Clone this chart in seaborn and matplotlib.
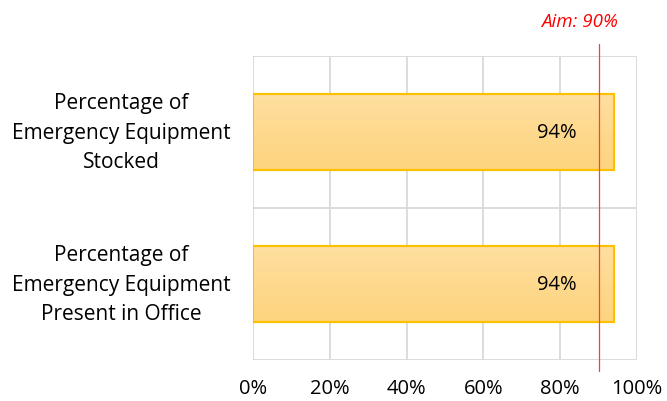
import matplotlib
matplotlib.use("Agg")
import matplotlib.pyplot as plt
import matplotlib.patches as mpatches
from matplotlib.colors import LinearSegmentedColormap
import seaborn as sns
import pandas as pd
import numpy as np

categories = ["Percentage of\nEmergency Equipment\nStocked",
              "Percentage of\nEmergency Equipment\nPresent in Office"]
values = [0.94, 0.94]
value_labels = ["94%", "94%"]
aim = 0.90
aim_label = "Aim: 90%"
xticks = [0, 0.2, 0.4, 0.6, 0.8, 1.0]
xtick_labels = ["0%", "20%", "40%", "60%", "80%", "100%"]

sns.set_theme(style="white")
plt.rcParams['font.family'] = ['Open Sans', 'DejaVu Sans']

df = pd.DataFrame({"cat": categories, "val": values})

fig = plt.figure(figsize=(6.67, 4.02), dpi=100)
ax = fig.add_axes([253/667, 1-361/402, 384/667, 304/402])

sns.barplot(data=df, y="cat", x="val", orient="h", ax=ax, width=0.5,
            color="#FED98F", edgecolor="#FFC000", linewidth=1.5, saturation=1)

ax.set_xlim(0, 1.0)
ax.set_ylim(1.5, -0.5)

# subtle vertical gradient fill inside bars
cmap = LinearSegmentedColormap.from_list("g", ["#FFDF9F", "#FDD47E"])
grad = np.linspace(0, 1, 64).reshape(-1, 1)
for p in list(ax.patches):
    x0, y0 = p.get_x(), p.get_y()
    w, h = p.get_width(), p.get_height()
    im = ax.imshow(grad, cmap=cmap, aspect="auto",
                   extent=(x0, x0 + w, y0 + h, y0), origin="upper",
                   zorder=p.get_zorder() + 0.1, interpolation="bilinear")
    im.set_clip_path(p)
    ax.add_patch(mpatches.Rectangle((x0, y0), w, h, facecolor="none",
                                    edgecolor="#FFC000", linewidth=1.5,
                                    zorder=p.get_zorder() + 0.2))
ax.set_xlim(0, 1.0)
ax.set_ylim(1.5, -0.5)
ax.set_aspect("auto")

ax.set_xlabel("")
ax.set_ylabel("")
ax.set_xticks(xticks)
ax.set_xticklabels(xtick_labels, fontsize=14.5, color="black")
ax.set_yticks(range(len(categories)))
ax.set_yticklabels(categories, fontsize=15, color="black", ha="center",
                   va="center", linespacing=1.5)
ax.tick_params(axis="y", length=0, pad=95)
ax.tick_params(axis="x", length=0, pad=13)

ax.set_yticks([-0.5, 0.5, 1.5], minor=True)
ax.tick_params(axis="y", which="minor", length=0)
ax.grid(axis="x", which="major", color="#D9D9D9", linewidth=1.3)
ax.grid(axis="y", which="minor", color="#D9D9D9", linewidth=1.3)
ax.set_axisbelow(True)
for s in ax.spines.values():
    s.set_visible(False)

for i, (v, lab) in enumerate(zip(values, value_labels)):
    ax.text(v - 0.148, i, lab, ha="center", va="center", fontsize=14.5,
            color="black", zorder=5)

ax.axvline(aim, ymin=-0.035, ymax=1.04, color="#FF3B3B", linewidth=0.9,
           clip_on=False, zorder=6)
ax.text(0.85, 1.115, aim_label, transform=ax.get_xaxis_transform(), ha="center",
        va="center", fontsize=13.5, color="#FF0000", style="italic")

fig.savefig("out.png", dpi=100)
